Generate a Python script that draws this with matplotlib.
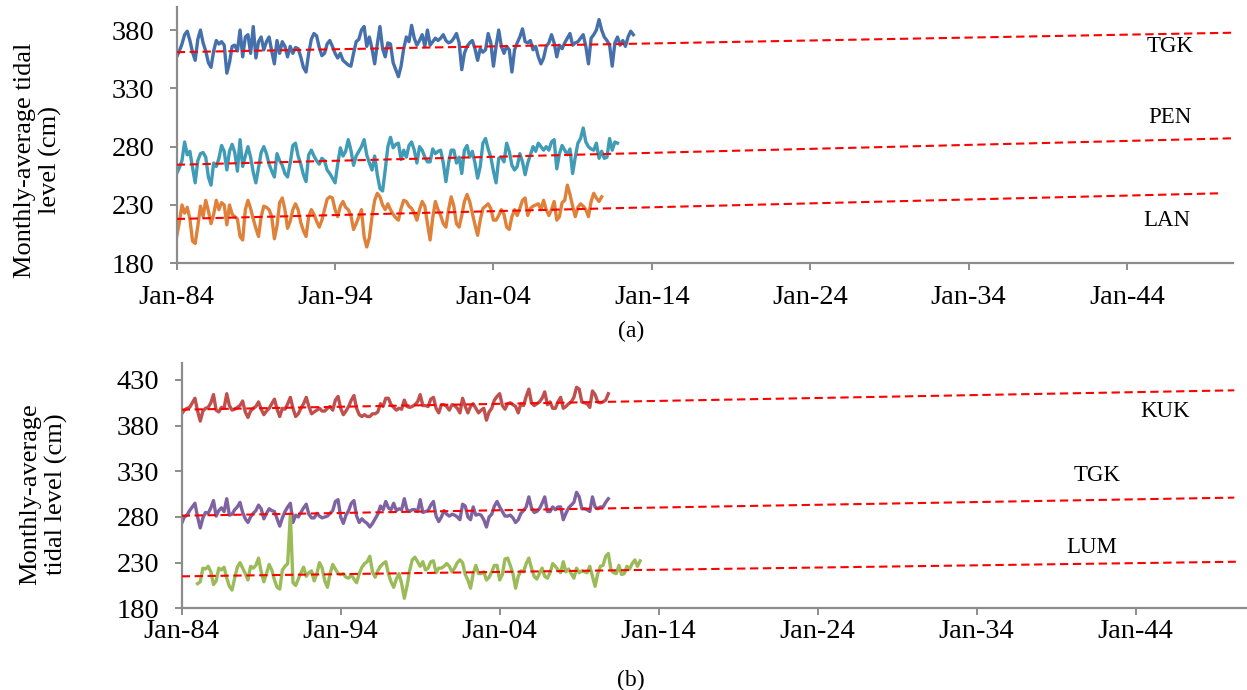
import numpy as np
import matplotlib
matplotlib.use('Agg')
import matplotlib.pyplot as plt

plt.rcParams['font.family'] = ['Liberation Serif', 'DejaVu Serif']

# bi-monthly values (cm)
# panel (a)
tgk_a_start = 1984.0
tgk_a = [357, 362, 368, 376, 379, 371, 361, 354, 372, 380,
         369, 362, 352, 348, 362, 371, 368, 370, 367, 343,
         352, 366, 367, 362, 380, 357, 374, 376, 360, 383,
         356, 370, 374, 363, 370, 374, 362, 351, 371, 360,
         370, 366, 357, 366, 360, 365, 364, 357, 348, 344,
         360, 372, 377, 375, 365, 358, 360, 368, 371, 366,
         360, 356, 360, 354, 352, 350, 349, 360, 370, 372,
         380, 383, 366, 374, 364, 351, 368, 383, 364, 357,
         369, 368, 352, 346, 340, 349, 364, 374, 370, 384,
         373, 367, 371, 376, 366, 380, 367, 370, 373, 371,
         373, 376, 371, 369, 370, 373, 377, 369, 346, 360,
         366, 369, 371, 364, 354, 364, 361, 363, 377, 369,
         349, 366, 380, 366, 360, 366, 363, 344, 363, 369,
         374, 381, 370, 369, 371, 363, 366, 357, 351, 356,
         366, 369, 376, 369, 357, 367, 364, 369, 373, 377,
         367, 369, 370, 373, 376, 366, 351, 373, 376, 380,
         389, 380, 374, 371, 367, 349, 369, 374, 367, 371,
         366, 374, 379, 376]

pen_a_start = 1984.0
pen_a = [257, 262, 268, 284, 273, 276, 262, 249, 268, 274,
         275, 271, 254, 247, 266, 263, 270, 281, 276, 260,
         276, 282, 275, 259, 286, 263, 272, 280, 271, 258,
         249, 262, 275, 280, 274, 265, 259, 254, 274, 268,
         264, 257, 254, 266, 281, 283, 272, 265, 256, 250,
         273, 277, 272, 268, 265, 270, 268, 260, 257, 253,
         249, 265, 279, 272, 276, 286, 277, 264, 272, 276,
         280, 286, 273, 266, 260, 272, 256, 244, 242, 260,
         280, 288, 279, 282, 283, 269, 277, 271, 281, 284,
         277, 266, 280, 277, 271, 267, 267, 278, 274, 276,
         277, 266, 250, 266, 277, 277, 266, 271, 257, 277,
         281, 271, 276, 266, 253, 263, 283, 287, 278, 271,
         259, 249, 270, 271, 267, 283, 276, 264, 260, 263,
         274, 267, 256, 266, 273, 280, 276, 283, 280, 277,
         280, 277, 284, 286, 261, 274, 281, 277, 273, 278,
         257, 271, 283, 287, 296, 284, 280, 278, 277, 283,
         270, 276, 270, 271, 287, 277, 284, 283]

lan_a_start = 1984.0
lan_a = [203, 215, 230, 223, 228, 218, 199, 197, 212, 229,
         220, 234, 225, 214, 222, 234, 226, 232, 230, 213,
         230, 222, 220, 218, 203, 200, 226, 234, 227, 218,
         210, 203, 220, 229, 228, 226, 220, 201, 212, 232,
         236, 226, 210, 216, 226, 231, 226, 215, 208, 203,
         220, 226, 222, 216, 211, 217, 226, 235, 237, 236,
         226, 220, 229, 233, 228, 226, 221, 209, 214, 220,
         226, 203, 194, 202, 220, 234, 240, 237, 230, 226,
         231, 226, 222, 219, 217, 227, 234, 233, 229, 227,
         223, 217, 226, 233, 229, 214, 200, 219, 233, 226,
         221, 214, 211, 226, 237, 229, 214, 211, 221, 233,
         239, 233, 223, 213, 204, 217, 227, 229, 231, 227,
         217, 217, 221, 226, 222, 211, 209, 220, 226, 221,
         227, 234, 236, 221, 227, 229, 230, 231, 226, 234,
         226, 221, 226, 233, 217, 220, 232, 234, 247, 239,
         229, 220, 228, 231, 229, 226, 220, 233, 240, 236,
         233, 237]

# panel (b)
kuk_b_start = 1984.0
kuk_b = [393, 397, 399, 400, 405, 410, 396, 385, 396, 399,
         400, 405, 414, 397, 395, 400, 399, 415, 402, 397,
         398, 400, 402, 407, 395, 389, 396, 399, 401, 406,
         398, 392, 396, 399, 404, 409, 398, 390, 399, 398,
         404, 411, 399, 390, 393, 399, 404, 411, 401, 393,
         395, 397, 399, 396, 396, 399, 401, 397, 408, 412,
         399, 392, 396, 401, 408, 413, 399, 392, 390, 392,
         390, 390, 393, 393, 395, 404, 401, 410, 410, 403,
         400, 397, 399, 398, 408, 401, 400, 401, 403, 406,
         414, 402, 402, 401, 409, 411, 399, 394, 403, 403,
         401, 397, 403, 402, 399, 394, 410, 401, 394, 401,
         404, 399, 394, 397, 399, 386, 395, 399, 408, 412,
         415, 402, 398, 404, 405, 403, 401, 394, 404, 402,
         412, 420, 405, 402, 404, 406, 410, 417, 403, 406,
         399, 399, 406, 411, 399, 401, 404, 406, 411, 422,
         420, 406, 405, 404, 400, 418, 414, 406, 405, 406,
         408, 415]

tgk_b_start = 1984.0
tgk_b = [273, 280, 282, 287, 291, 295, 280, 268, 279, 285,
         284, 290, 298, 281, 287, 290, 286, 300, 282, 283,
         288, 291, 296, 285, 278, 274, 280, 284, 287, 293,
         289, 278, 284, 289, 287, 286, 278, 270, 279, 286,
         291, 295, 274, 282, 280, 285, 290, 294, 283, 279,
         279, 284, 281, 279, 280, 281, 284, 287, 297, 299,
         280, 273, 282, 287, 295, 298, 281, 274, 278, 275,
         273, 269, 273, 278, 283, 292, 288, 297, 290, 288,
         295, 287, 289, 288, 300, 288, 286, 288, 288, 286,
         299, 285, 286, 287, 293, 297, 281, 275, 280, 287,
         283, 281, 283, 282, 280, 277, 294, 292, 280, 277,
         291, 282, 283, 282, 277, 269, 280, 283, 292, 297,
         291, 286, 281, 281, 282, 279, 274, 277, 284, 287,
         291, 302, 290, 285, 286, 289, 295, 302, 286, 286,
         291, 288, 291, 291, 277, 284, 290, 293, 296, 307,
         302, 289, 289, 288, 286, 302, 291, 289, 291, 291,
         296, 300]

lum_b_start = 1985.0
lum_b = [207, 209, 224, 223, 226, 220, 206, 210, 224, 222,
         225, 213, 204, 200, 213, 225, 230, 224, 218, 211,
         226, 224, 227, 235, 220, 209, 218, 228, 222, 211,
         203, 201, 222, 226, 229, 283, 208, 205, 212, 219,
         225, 215, 219, 221, 210, 218, 230, 224, 210, 203,
         218, 228, 223, 218, 217, 218, 214, 213, 217, 212,
         208, 218, 225, 229, 231, 237, 220, 214, 221, 226,
         229, 231, 218, 209, 203, 212, 218, 207, 191, 204,
         221, 233, 236, 231, 226, 231, 222, 224, 231, 232,
         219, 224, 224, 226, 229, 226, 220, 224, 230, 233,
         230, 217, 211, 202, 218, 227, 218, 218, 220, 211,
         214, 220, 227, 227, 211, 217, 234, 235, 227, 218,
         202, 215, 221, 220, 229, 235, 224, 215, 212, 218,
         224, 215, 213, 219, 229, 226, 222, 219, 231, 220,
         223, 218, 213, 224, 219, 221, 220, 219, 226, 215,
         204, 218, 226, 227, 237, 240, 222, 219, 218, 227,
         217, 218, 226, 223, 229, 233, 226, 232]

# linear trends (start 1984, end value / end year)
trend_a_start = [361.0, 264.5, 218.0]
trend_a_end = [377.7, 287.2, 240.0]
trend_a_end_year = [2050.7, 2050.7, 2049.8]
trend_b_start = [397.5, 281.4, 215.0]
trend_b_end = [418.7, 301.2, 231.0]
trend_b_end_year = [2050.2, 2050.2, 2050.3]

names_a = ['TGK', 'PEN', 'LAN']
names_b = ['KUK', 'TGK', 'LUM']
label_pos_a = [(2046.7, 366.0), (2046.75, 304.8), (2046.5, 216.3)]
label_pos_b = [(2045.85, 395.3), (2041.55, 325.1), (2041.25, 246.1)]

xtick_years = [1984, 1994, 2004, 2014, 2024, 2034, 2044]
xtick_labels = ['Jan-84', 'Jan-94', 'Jan-04', 'Jan-14', 'Jan-24', 'Jan-34', 'Jan-44']

colors_a = ['#4570ab', '#3f9bb6', '#e0813a']
colors_b = ['#c0504d', '#7e62a1', '#9bbb59']
axis_grey = '#8c8c8c'


def series_x(start, values):
    # bi-monthly steps
    return start + np.arange(len(values)) / 6.0


def style_axes(ax, yticks, xpad):
    for s in ['top', 'right']:
        ax.spines[s].set_visible(False)
    for s in ['left', 'bottom']:
        ax.spines[s].set_color(axis_grey)
        ax.spines[s].set_linewidth(1.6)
    ax.set_xticks(xtick_years)
    ax.set_xticklabels(xtick_labels)
    ax.set_yticks(yticks)
    ax.tick_params(axis='both', colors=axis_grey, labelcolor='black',
                   labelsize=20.5, length=5, width=1.4)
    ax.tick_params(axis='y', pad=11)
    ax.tick_params(axis='x', pad=xpad)


fig = plt.figure(figsize=(12.47, 6.90), dpi=100)

# %% panel (a)
ax1 = fig.add_axes([0.1417, 0.6184, 0.8471, 0.3719])
data_a = [(tgk_a_start, tgk_a), (pen_a_start, pen_a), (lan_a_start, lan_a)]
for n, (st, vals) in enumerate(data_a):
    ax1.plot(series_x(st, vals), vals, color=colors_a[n], linewidth=2.4,
             solid_joinstyle='round', zorder=2)
for n in range(3):
    ax1.plot([1984, trend_a_end_year[n]], [trend_a_start[n], trend_a_end[n]],
             color='#ff0000', linewidth=1.5, dashes=(4, 2.2), zorder=3)
    ax1.text(label_pos_a[n][0], label_pos_a[n][1], names_a[n], fontsize=16.5,
             ha='center', va='center')
ax1.set_xlim(1984, 2050.7)
ax1.set_ylim(180, 400)
style_axes(ax1, [180, 230, 280, 330, 380], 10.5)

# %% panel (b)
ax2 = fig.add_axes([0.1457, 0.1184, 0.8543, 0.3551])
data_b = [(kuk_b_start, kuk_b), (tgk_b_start, tgk_b), (lum_b_start, lum_b)]
for n, (st, vals) in enumerate(data_b):
    ax2.plot(series_x(st, vals), vals, color=colors_b[n], linewidth=2.4,
             solid_joinstyle='round', zorder=2)
for n in range(3):
    ax2.plot([1984, trend_b_end_year[n]], [trend_b_start[n], trend_b_end[n]],
             color='#ff0000', linewidth=1.5, dashes=(4, 2.2), zorder=3)
    ax2.text(label_pos_b[n][0], label_pos_b[n][1], names_b[n], fontsize=16.5,
             ha='center', va='center')
ax2.set_xlim(1984, 2051)
ax2.set_ylim(180, 448.3)
style_axes(ax2, [180, 230, 280, 330, 380, 430], 2.5)

# y labels and captions
fig.text(38 / 1247, 1 - 160 / 690, 'Monthly-average tidal\nlevel (cm)', rotation=90,
         ha='center', va='center', fontsize=19, multialignment='center', linespacing=1.2)
fig.text(44 / 1247, 1 - 494 / 690, 'Monthly-average\ntidal level (cm)', rotation=90,
         ha='center', va='center', fontsize=19, multialignment='center', linespacing=1.2)
fig.text(631 / 1247, 1 - 331 / 690, '(a)', ha='center', va='center', fontsize=17)
fig.text(631 / 1247, 1 - 680 / 690, '(b)', ha='center', va='center', fontsize=17)

fig.savefig('out.png', dpi=100)
